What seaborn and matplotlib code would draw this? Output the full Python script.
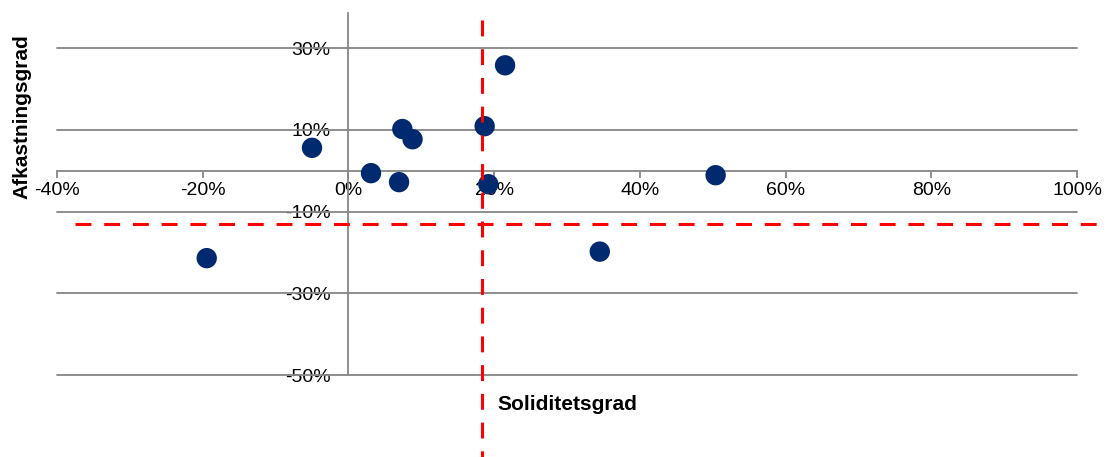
import pandas as pd
import matplotlib
matplotlib.use("Agg")
import matplotlib.pyplot as plt
from matplotlib.ticker import PercentFormatter
import seaborn as sns

# data (fractions)
soliditet = [-0.050, -0.1945, 0.031, 0.0695, 0.074, 0.088, 0.187, 0.192, 0.215, 0.345, 0.504]
afkast = [0.056, -0.214, -0.006, -0.028, 0.102, 0.077, 0.109, -0.033, 0.258, -0.198, -0.011]
# threshold lines
x_limit = 0.184
y_limit = -0.131

x_ticks = [-0.4, -0.2, 0.0, 0.2, 0.4, 0.6, 0.8, 1.0]
y_ticks = [-0.5, -0.3, -0.1, 0.1, 0.3]

df = pd.DataFrame({"Soliditetsgrad": soliditet, "Afkastningsgrad": afkast})

sns.set_theme(style="white")
plt.rcParams["font.family"] = ["Liberation Sans", "DejaVu Sans"]
plt.rcParams["axes.unicode_minus"] = False
plt.rcParams["text.color"] = "black"

fig = plt.figure(figsize=(11.05, 4.57), dpi=100)
ax = fig.add_axes([57 / 1105, 1 - 375 / 457, 1020 / 1105, 362 / 457])

grey = "#868686"
ax.set_xlim(-0.4, 1.0)
ax.set_ylim(-0.5, 0.386)
ax.set_yticks(y_ticks)
ax.set_xticks(x_ticks)
for yv in y_ticks:
    ax.axhline(yv, color=grey, lw=1.3, zorder=1, clip_on=False)

sns.scatterplot(data=df, x="Soliditetsgrad", y="Afkastningsgrad", ax=ax,
                s=215, color="#002A70", edgecolor="none", zorder=3)

# red dashed threshold lines, running past the plot area
dash = (0, (5.2, 4.2))
ax.plot([-0.375, 1.032], [y_limit, y_limit], color="#FF0000", lw=2.2,
        linestyle=dash, clip_on=False, zorder=4)
ax.plot([x_limit, x_limit], [0.368, -0.70], color="#FF0000", lw=2.2,
        linestyle=dash, clip_on=False, zorder=4)

for side in ["top", "right"]:
    ax.spines[side].set_visible(False)
ax.spines["left"].set_position(("data", 0))
ax.spines["bottom"].set_position(("data", 0))
for side in ["left", "bottom"]:
    ax.spines[side].set_color(grey)
    ax.spines[side].set_linewidth(1.3)
    ax.spines[side].set_zorder(1)
ax.spines["left"].set_bounds(-0.5, 0.386)

ax.xaxis.set_major_formatter(PercentFormatter(1.0, decimals=0))
ax.yaxis.set_major_formatter(PercentFormatter(1.0, decimals=0))
ax.tick_params(axis="x", direction="out", length=5, width=1.3, color=grey,
               pad=3, labelsize=14, labelcolor="black", bottom=True)
ax.tick_params(axis="y", length=0, pad=13, labelsize=14, labelcolor="black", left=True)

ax.set_xlabel("")
ax.set_ylabel("")
fig.text(22 / 1105, 1 - 117 / 457, "Afkastningsgrad", rotation=90, fontsize=15,
         fontweight="bold", ha="center", va="center", color="black")
fig.text(497 / 1105, 1 - 405 / 457, "Soliditetsgrad", fontsize=15,
         fontweight="bold", ha="left", va="center", color="black")

fig.savefig("out.png", dpi=100)
